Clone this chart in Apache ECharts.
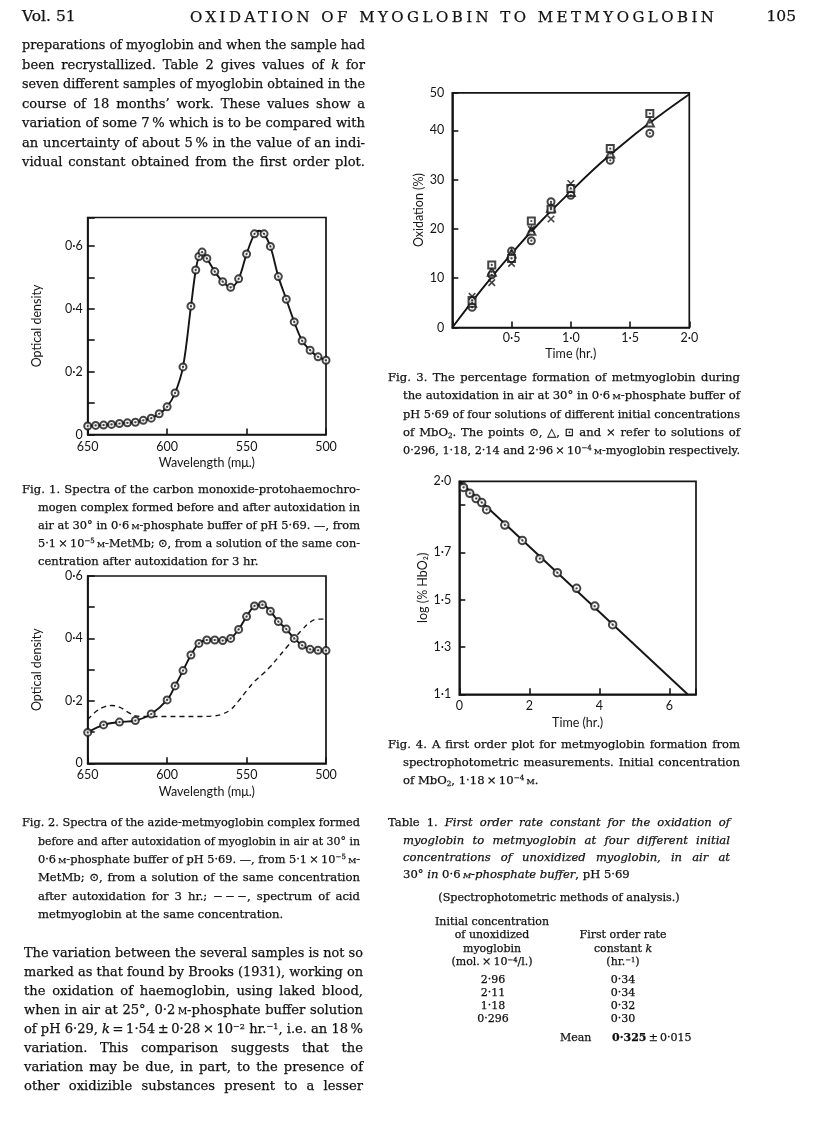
<!DOCTYPE html>
<html>
<head>
<meta charset="utf-8">
<title>Oxidation of myoglobin to metmyoglobin</title>
<script src="https://cdn.jsdelivr.net/npm/echarts@6/dist/echarts.min.js"></script>
<style>
  html, body { margin:0; padding:0; background:#fff; }
  #page { position:relative; width:816px; height:1146px; overflow:hidden; background:#fff; }
  #chart { position:absolute; left:0; top:0; width:816px; height:1146px; }
  .t { position:absolute; white-space:nowrap; font-family:"DejaVu Serif", serif; color:#111; line-height:1; -webkit-text-stroke:0.25px #111; }
  .sc { font-variant:small-caps; }
  sup { font-size:0.62em; line-height:0; vertical-align:0.5em; }
  sub { font-size:0.62em; line-height:0; vertical-align:-0.25em; }
</style>
</head>
<body>
<div id="page"><div id="chart"></div></div>
<script>
// ---------------- DATA ----------------
// Fig. 1  (carbon monoxide-protohaemochromogen complex)
const fig1Wavelength = [650,645,640,635,630,625,620,615,610,605,600,595,590,585,582,580,578,575,570,565,560,555,550,545,539,535,530,525,520,515,510,505,500];
const fig1OD        = [0.027,0.029,0.030,0.032,0.035,0.037,0.039,0.045,0.052,0.066,0.088,0.132,0.215,0.408,0.523,0.566,0.580,0.560,0.518,0.486,0.468,0.495,0.574,0.638,0.638,0.598,0.502,0.430,0.358,0.298,0.268,0.247,0.236];
const fig1LineWavelength = [650,645,640,635,630,625,620,615,610,605,600,595,590,585,582,580,578,575,570,565,560,555,550,545,542,539,535,530,525,520,515,510,505,500];
const fig1LineOD        = [0.027,0.029,0.030,0.032,0.035,0.037,0.039,0.045,0.052,0.066,0.088,0.132,0.215,0.408,0.523,0.566,0.580,0.560,0.518,0.486,0.468,0.495,0.574,0.638,0.648,0.638,0.598,0.502,0.430,0.358,0.298,0.268,0.247,0.236];

// Fig. 2  (azide-metmyoglobin complex)
const fig2Wavelength = [650,640,630,620,610,600,595,590,585,580,575,570,565,560,555,550,545,540,535,530,525,520,515,510,505,500];
const fig2OD        = [0.099,0.123,0.132,0.137,0.158,0.203,0.248,0.297,0.347,0.384,0.395,0.395,0.393,0.400,0.429,0.470,0.504,0.508,0.487,0.454,0.430,0.400,0.378,0.365,0.362,0.361];
const fig2AcidWavelength = [650,645,640,635,630,625,620,615,610,600,590,580,570,565,560,555,550,545,540,535,530,525,520,515,510,505,500];
const fig2AcidOD        = [0.140,0.165,0.180,0.185,0.180,0.165,0.152,0.150,0.150,0.150,0.150,0.150,0.152,0.158,0.172,0.200,0.232,0.262,0.285,0.310,0.340,0.370,0.400,0.428,0.452,0.462,0.462];

// Fig. 3  (percentage oxidation vs time)
const fig3Times    = [0.167,0.333,0.5,0.667,0.833,1.0,1.333,1.667];
const fig3Circle   = [4.1,10.7,15.5,17.6,25.5,26.8,33.9,39.4];   // 0.296
const fig3Triangle = [5.0,11.3,15.0,19.6,24.3,27.5,35.3,41.6];   // 1.18
const fig3Square   = [5.5,12.7,14.0,21.6,24.0,28.2,36.3,43.4];   // 2.14
const fig3CrossTimes = [0.167,0.333,0.5,0.667,0.833,1.0];
const fig3Cross      = [6.3,9.1,13.0,19.9,22.0,29.2];              // 2.96
const fig3CurveTimes = [0,0.25,0.5,0.75,1.0,1.25,1.5,1.75,2.0];
const fig3Curve      = [0,7.8,15.0,21.6,27.6,33.3,38.4,43.0,47.3];

// Fig. 4  (first order plot)
const fig4Times   = [0.12,0.30,0.48,0.64,0.78,1.30,1.80,2.30,2.80,3.35,3.87,4.38];
const fig4LogHbO2 = [1.974,1.949,1.927,1.910,1.880,1.815,1.750,1.673,1.614,1.548,1.473,1.394];
const fig4FitTimes = [0, 6.52];
const fig4FitLog   = [2.0, 1.1];

// tick labels
const odTickLabels   = {0:'0', 2:'0·2', 4:'0·4', 6:'0·6'};
const timeTickLabels3 = {5:'0·5', 10:'1·0', 15:'1·5', 20:'2·0'};
const logTickLabels  = {11:'1·1', 13:'1·3', 15:'1·5', 17:'1·7', 20:'2·0'};

// Table 1
const tableConc = ['2·96','2·11','1·18','0·296'];
const tableK    = ['0·34','0·34','0·32','0·30'];
const tableMean = '0·325';
const tableErr  = '0·015';

// ---------------- TEXT ----------------
const page = document.getElementById('page');
function put(html, x, yc, size, opt) {
  opt = opt || {};
  const d = document.createElement('div');
  d.className = 't';
  d.style.fontSize = size + 'px';
  d.style.top = (yc - size / 2) + 'px';
  d.innerHTML = html;
  if (opt.italic) d.style.fontStyle = 'italic';
  if (opt.weight) d.style.fontWeight = opt.weight;
  page.appendChild(d);
  const nat = d.getBoundingClientRect().width;
  let left = x;
  if (opt.center) left = x - nat / 2;
  if (opt.right) left = x - nat;
  d.style.left = left + 'px';
  if (opt.width) {
    if (opt.letters) {
      const n = d.textContent.length;
      d.style.letterSpacing = ((opt.width - nat) / (n - 1)) + 'px';
    } else {
      const spaces = (d.textContent.match(/ /g) || []).length;
      if (nat < opt.width && spaces) d.style.wordSpacing = ((opt.width - nat) / spaces) + 'px';
      else if (nat > opt.width) { d.style.transformOrigin = '0 50%'; d.style.transform = 'scaleX(' + (opt.width / nat) + ')'; }
    }
  }
  return d;
}
function block(lines, x0, xIndent, xRight, y0, dy, size, lastFree) {
  lines.forEach((ln, i) => {
    const x = i === 0 ? x0 : xIndent;
    const free = lastFree && i === lines.length - 1;
    put(ln, x, y0 + i * dy, size, free ? {} : { width: xRight - x });
  });
}
const M = '<span class="sc">m</span>';

// header
put('Vol. 51', 22, 17, 15.5);
put('OXIDATION OF MYOGLOBIN TO METMYOGLOBIN', 190, 17, 15, { width: 524, letters: true });
put('105', 796, 17, 15.5, { right: true });

// paragraph 1
block([
  'preparations of myoglobin and when the sample had',
  'been recrystallized. Table 2 gives values of <i>k</i> for',
  'seven different samples of myoglobin obtained in the',
  'course of 18 months’ work. These values show a',
  'variation of some 7\u2009% which is to be compared with',
  'an uncertainty of about 5\u2009% in the value of an indi-',
  'vidual constant obtained from the first order plot.'
], 22, 22, 365, 45, 19.5, 13.1, false);

// Fig. 1 caption
block([
  'Fig. 1. Spectra of the carbon monoxide-protohaemochro-',
  'mogen complex formed before and after autoxidation in',
  'air at 30° in 0·6\u2009' + M + '-phosphate buffer of pH 5·69. —, from',
  '5·1\u2009×\u200910<sup>−5</sup>\u2009' + M + '-MetMb; \u2299, from a solution of the same con-',
  'centration after autoxidation for 3 hr.'
], 22, 38, 360, 490, 18, 11.6, true);

// Fig. 2 caption
block([
  'Fig. 2. Spectra of the azide-metmyoglobin complex formed',
  'before and after autoxidation of myoglobin in air at 30° in',
  '0·6\u2009' + M + '-phosphate buffer of pH 5·69. —, from 5·1\u2009×\u200910<sup>−5</sup>\u2009' + M + '-',
  'MetMb; \u2299, from a solution of the same concentration',
  'after autoxidation for 3 hr.; −\u2009−\u2009−, spectrum of acid',
  'metmyoglobin at the same concentration.'
], 22, 38, 360, 823, 18.4, 11.6, true);

// paragraph 2
block([
  'The variation between the several samples is not so',
  'marked as that found by Brooks (1931), working on',
  'the oxidation of haemoglobin, using laked blood,',
  'when in air at 25°, 0·2\u2009' + M + '-phosphate buffer solution',
  'of pH 6·29, <i>k</i>\u2009=\u20091·54\u2009±\u20090·28\u2009×\u200910<sup>−2</sup> hr.<sup>−1</sup>, i.e. an 18\u2009%',
  'variation. This comparison suggests that the',
  'variation may be due, in part, to the presence of',
  'other oxidizible substances present to a lesser'
], 24, 24, 363, 953, 19, 13.1, false);

// Fig. 3 caption
block([
  'Fig. 3. The percentage formation of metmyoglobin during',
  'the autoxidation in air at 30° in 0·6\u2009' + M + '-phosphate buffer of',
  'pH 5·69 of four solutions of different initial concentrations',
  'of MbO<sub>2</sub>. The points \u2299, \u25B3, \u22A1 and × refer to solutions of',
  '0·296, 1·18, 2·14 and 2·96\u2009×\u200910<sup>−4</sup>\u2009' + M + '-myoglobin respectively.'
], 388, 403, 740, 378, 18.2, 11.6, false);

// Fig. 4 caption
block([
  'Fig. 4. A first order plot for metmyoglobin formation from',
  'spectrophotometric measurements. Initial concentration',
  'of MbO<sub>2</sub>, 1·18\u2009×\u200910<sup>−4</sup>\u2009' + M + '.'
], 388, 403, 740, 745, 18, 11.6, true);

// Table 1 title
block([
  'Table 1. <i>First order rate constant for the oxidation of</i>',
  '<i>myoglobin to metmyoglobin at four different initial</i>',
  '<i>concentrations of unoxidized myoglobin, in air at</i>',
  '30° <i>in</i> 0·6\u2009<i>' + M + '-phosphate buffer</i>, pH 5·69'
], 388, 403, 730, 823, 17.4, 11.6, true);

put('(Spectrophotometric methods of analysis.)', 559, 898, 11.2, { center: true });
put('Initial concentration', 492, 921, 11, { center: true });
put('of unoxidized', 492, 934, 11, { center: true });
put('myoglobin', 492, 948, 11, { center: true });
put('(mol.\u2009×\u200910<sup>−4</sup>/l.)', 492, 961, 11, { center: true });
put('First order rate', 623, 934, 11, { center: true });
put('constant <i>k</i>', 623, 948, 11, { center: true });
put('(hr.<sup>−1</sup>)', 623, 961, 11, { center: true });
tableConc.forEach((c, i) => {
  put(c, 493, 979 + i * 13, 11, { center: true });
  put(tableK[i], 623, 979 + i * 13, 11, { center: true });
});
put('Mean', 560, 1037, 11);
put('<b>' + tableMean + '</b>\u2009±\u2009' + tableErr, 612, 1037, 11);

// ---------------- CHARTS ----------------
const INK = '#151515';
const SANS = 'Lato';
const zip = (xs, ys) => xs.map((x, i) => [x, ys[i]]);

function mkAxis(o) {
  return {
    gridIndex: o.grid, type: 'value', min: o.min, max: o.max, interval: o.interval,
    inverse: !!o.inverse,
    axisLine: { show: true, onZero: false, lineStyle: { color: INK, width: 1.7 } },
    axisTick: { show: true, inside: true, length: o.tickLen || 6, lineStyle: { color: INK, width: 1.6 } },
    axisLabel: { color: INK, fontFamily: SANS, fontSize: 12.5, margin: o.margin, formatter: o.fmt, showMaxLabel: true, showMinLabel: true },
    splitLine: { show: false },
    name: o.name, nameLocation: 'middle', nameGap: o.gap,
    nameTextStyle: { color: INK, fontFamily: SANS, fontSize: 12.5 }
  };
}
const tenth = v => Math.round(v * 10);
const isTenth = v => Math.abs(v * 10 - Math.round(v * 10)) < 1e-6;

const gridBase = { show: true, borderColor: INK, borderWidth: 1.7, backgroundColor: 'transparent', containLabel: false, outerBoundsMode: 'none' };

function ringSeries(name, data, xi, symbol, size) {
  return [{
    name: name, type: 'scatter', xAxisIndex: xi, yAxisIndex: xi, data: data,
    symbol: symbol, symbolSize: size, z: 4,
    itemStyle: { color: INK, borderColor: INK, borderWidth: 1.5 }
  }, {
    name: name + ' centre', type: 'scatter', xAxisIndex: xi, yAxisIndex: xi, data: data,
    symbol: 'circle', symbolSize: 2.2, z: 5, itemStyle: { color: INK }
  }];
}

const chart = echarts.init(document.getElementById('chart'), null, { renderer: 'canvas' });
chart.setOption({
  animation: false,
  backgroundColor: 'transparent',
  grid: [
    Object.assign({ left: 87.7, top: 217.5, width: 238.3, height: 217 }, gridBase),
    Object.assign({ left: 87.7, top: 576, width: 238.3, height: 187.3 }, gridBase),
    Object.assign({ left: 452.3, top: 92.8, width: 237, height: 234.7 }, gridBase),
    Object.assign({ left: 459.3, top: 481.3, width: 236.7, height: 213 }, gridBase)
  ],
  xAxis: [
    mkAxis({ grid: 0, min: 500, max: 650, interval: 50, inverse: true, margin: 6, gap: 22, name: 'Wavelength (mμ.)', fmt: v => String(v) }),
    mkAxis({ grid: 1, min: 500, max: 650, interval: 50, inverse: true, margin: 5, gap: 22, name: 'Wavelength (mμ.)', fmt: v => String(v) }),
    mkAxis({ grid: 2, min: 0, max: 2, interval: 0.5, margin: 4, gap: 20, name: 'Time (hr.)', fmt: v => timeTickLabels3[tenth(v)] || '' }),
    mkAxis({ grid: 3, min: 0, max: 6.76, interval: 2, margin: 5, gap: 22, name: 'Time (hr.)', fmt: v => (v <= 6 ? String(v) : '') })
  ],
  yAxis: [
    mkAxis({ grid: 0, min: 0, max: 0.69, interval: 0.1, margin: 5, gap: 44, name: 'Optical density', tickLen: 7,
      fmt: v => (isTenth(v) ? (odTickLabels[tenth(v)] || '') : '') }),
    mkAxis({ grid: 1, min: 0, max: 0.6, interval: 0.1, margin: 5, gap: 44, name: 'Optical density', tickLen: 7,
      fmt: v => (isTenth(v) ? (odTickLabels[tenth(v)] || '') : '') }),
    mkAxis({ grid: 2, min: 0, max: 47.6, interval: 10, margin: 8, gap: 23, name: 'Oxidation (%)',
      fmt: v => (v > 45 ? '50' : String(v)) }),
    mkAxis({ grid: 3, min: 1.1, max: 2.0, interval: 0.2, margin: 8, gap: 28, name: 'log (% HbO\u2082)',
      fmt: v => logTickLabels[tenth(v)] || '' })
  ],
  series: [
    // Fig 1
    { name: 'MetMb', type: 'line', xAxisIndex: 0, yAxisIndex: 0, data: zip(fig1LineWavelength, fig1LineOD),
      smooth: 0.35, showSymbol: false, z: 2, lineStyle: { color: INK, width: 1.9 } },
    ...ringSeries('after autoxidation 1', zip(fig1Wavelength, fig1OD), 0, 'emptyCircle', 7),
    // Fig 2
    { name: 'azide MetMb', type: 'line', xAxisIndex: 1, yAxisIndex: 1, data: zip(fig2Wavelength, fig2OD),
      smooth: 0.35, showSymbol: false, z: 2, lineStyle: { color: INK, width: 1.9 } },
    { name: 'acid metmyoglobin', type: 'line', xAxisIndex: 1, yAxisIndex: 1, data: zip(fig2AcidWavelength, fig2AcidOD),
      smooth: 0.4, showSymbol: false, z: 2, lineStyle: { color: INK, width: 1.4, type: [5, 4] } },
    ...ringSeries('after autoxidation 2', zip(fig2Wavelength, fig2OD), 1, 'emptyCircle', 7),
    // Fig 3
    { name: 'curve', type: 'line', xAxisIndex: 2, yAxisIndex: 2, data: zip(fig3CurveTimes, fig3Curve),
      smooth: 0.4, showSymbol: false, z: 2, lineStyle: { color: INK, width: 1.9 } },
    ...ringSeries('0.296', zip(fig3Times, fig3Circle), 2, 'emptyCircle', 7),
    ...ringSeries('1.18', zip(fig3Times, fig3Triangle), 2, 'emptyTriangle', 8),
    ...ringSeries('2.14', zip(fig3Times, fig3Square), 2, 'emptyRect', 7),
    { name: '2.96', type: 'scatter', xAxisIndex: 2, yAxisIndex: 2, data: zip(fig3CrossTimes, fig3Cross),
      symbol: 'path://M0,0L10,10M10,0L0,10', symbolSize: 6.5, z: 6,
      itemStyle: { color: 'rgba(0,0,0,0)', borderColor: INK, borderWidth: 1.6 } },
    // Fig 4
    { name: 'fit', type: 'line', xAxisIndex: 3, yAxisIndex: 3, data: zip(fig4FitTimes, fig4FitLog),
      showSymbol: false, z: 2, lineStyle: { color: INK, width: 1.9 } },
    ...ringSeries('log HbO2', zip(fig4Times, fig4LogHbO2), 3, 'emptyCircle', 7.5)
  ]
});
</script>
</body>
</html>
